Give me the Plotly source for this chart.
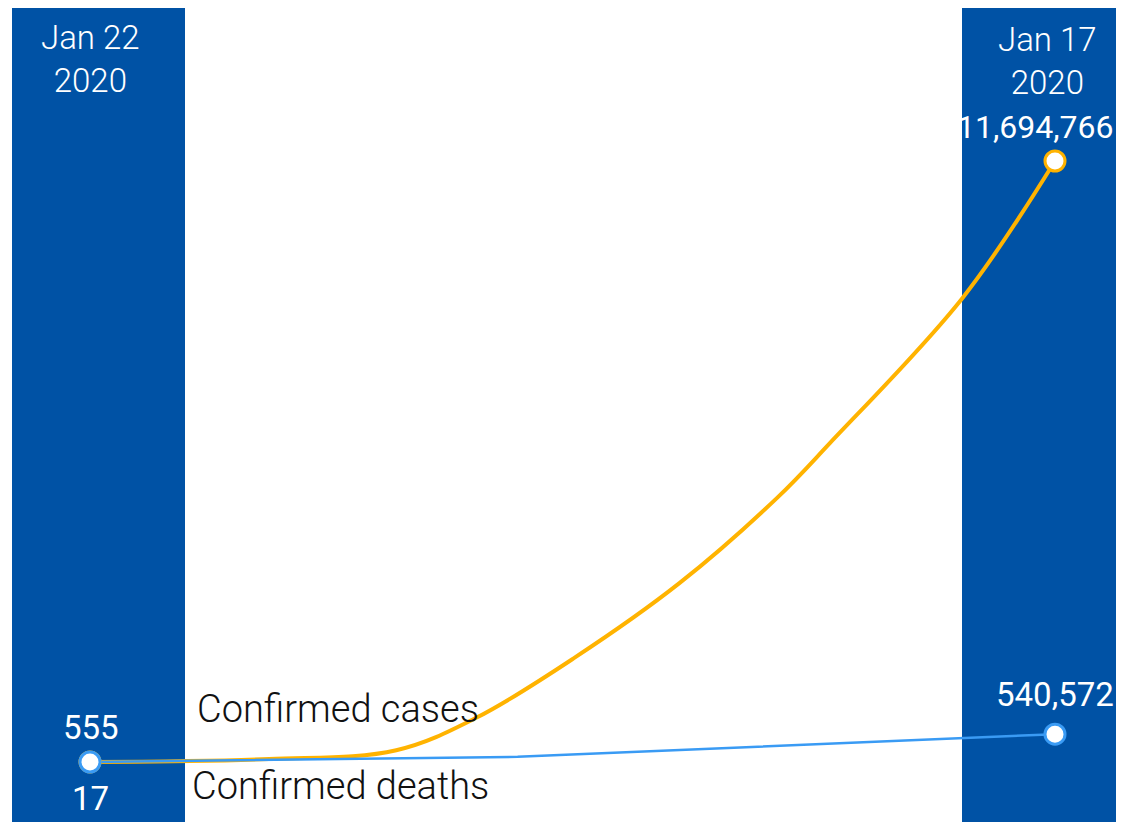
import pandas as pd
import plotly.graph_objects as go

case_dates = ["2020-01-22", "2020-02-22", "2020-03-15", "2020-03-29", "2020-04-15",
              "2020-05-03", "2020-05-20", "2020-05-29", "2020-06-21", "2020-07-07"]
cases = [555, 60000, 230000, 870000, 2040000, 3480000, 5150000, 6200000, 9030000, 11694766]
death_dates = ["2020-01-22", "2020-04-05", "2020-07-07"]
deaths = [17, 100000, 540572]
series_names = ["Confirmed cases", "Confirmed deaths"]
band_labels = ["Jan 22<br>2020", "Jan 17<br>2020"]

# page body has an 8px margin; figure sized to fit the window without scrollbars
OFF = 8
W, H = 1124 - 2 * OFF, 830 - 2 * OFF
ORANGE = "#FFB300"
BLUE = "#3A9BF4"
BAND = "#0052A5"
FONT = "Roboto"

X0_PX, X1_PX = 90 - OFF, 1055 - OFF
Y0_PX, Y1_PX = 762 - OFF, 161 - OFF

d0 = pd.Timestamp(case_dates[0])
d1 = pd.Timestamp(case_dates[-1])
px_per_day = (X1_PX - X0_PX) / (d1 - d0).days
x_left = d0 - pd.Timedelta(days=X0_PX / px_per_day)
x_right = d0 + pd.Timedelta(days=(W - X0_PX) / px_per_day)

units_per_px = cases[-1] / (Y0_PX - Y1_PX)
y_bottom = -(H - Y0_PX) * units_per_px
y_top = Y0_PX * units_per_px

fig = go.Figure()
fig.add_trace(go.Scatter(
    x=case_dates, y=cases, mode="lines",
    line=dict(color=ORANGE, width=4, shape="spline", smoothing=1),
    hoverinfo="skip", showlegend=False))
fig.add_trace(go.Scatter(
    x=death_dates, y=deaths, mode="lines", line=dict(color=BLUE, width=2.5),
    hoverinfo="skip", showlegend=False))
fig.add_trace(go.Scatter(
    x=[case_dates[0], case_dates[-1]], y=[cases[0], cases[-1]], mode="markers",
    marker=dict(size=20, color="white", line=dict(color=ORANGE, width=3)),
    hoverinfo="skip", showlegend=False))
fig.add_trace(go.Scatter(
    x=[death_dates[0], death_dates[-1]], y=[deaths[0], deaths[-1]], mode="markers",
    marker=dict(size=20, color="white", line=dict(color=BLUE, width=3)),
    hoverinfo="skip", showlegend=False))


def px(xp):
    return (xp - OFF) / W


def py(yp):
    return 1 - (yp - OFF) / H


shapes = [
    dict(type="rect", xref="paper", yref="paper", x0=px(12), x1=px(185), y0=0, y1=1,
         fillcolor=BAND, line=dict(width=0), layer="below"),
    dict(type="rect", xref="paper", yref="paper", x0=px(962), x1=1, y0=0, y1=1,
         fillcolor=BAND, line=dict(width=0), layer="below"),
]

ann = []


def add_text(text, xp, yp, size, color="white", weight=300, xanchor="center"):
    ann.append(dict(text=text, x=px(xp), y=py(yp), xref="paper", yref="paper",
                    xanchor=xanchor, yanchor="middle", showarrow=False,
                    font=dict(family=FONT, size=size, color=color, weight=weight)))


add_text(band_labels[0], 90, 59, 33)
add_text(band_labels[1], 1047, 61, 33)
add_text(f"{cases[-1]:,}", 1115, 127, 32, weight=400, xanchor="right")
add_text(f"{deaths[-1]:,}", 1055, 694, 33, weight=400)
add_text(f"{cases[0]:,}", 91, 727, 33, weight=400)
add_text(f"{deaths[0]:,}", 90, 798, 33, weight=400)
add_text(series_names[0], 195, 709, 38, color="#111111", xanchor="left")
add_text(series_names[1], 190, 786, 38, color="#111111", xanchor="left")

fig.update_layout(
    width=W, height=H, margin=dict(l=0, r=0, t=0, b=0),
    paper_bgcolor="white", plot_bgcolor="rgba(0,0,0,0)",
    xaxis=dict(type="date", range=[x_left, x_right], visible=False, fixedrange=True),
    yaxis=dict(range=[y_bottom, y_top], visible=False, fixedrange=True),
    shapes=shapes, annotations=ann, font=dict(family=FONT),
)
fig.write_html("out.html", config={"displayModeBar": False})
